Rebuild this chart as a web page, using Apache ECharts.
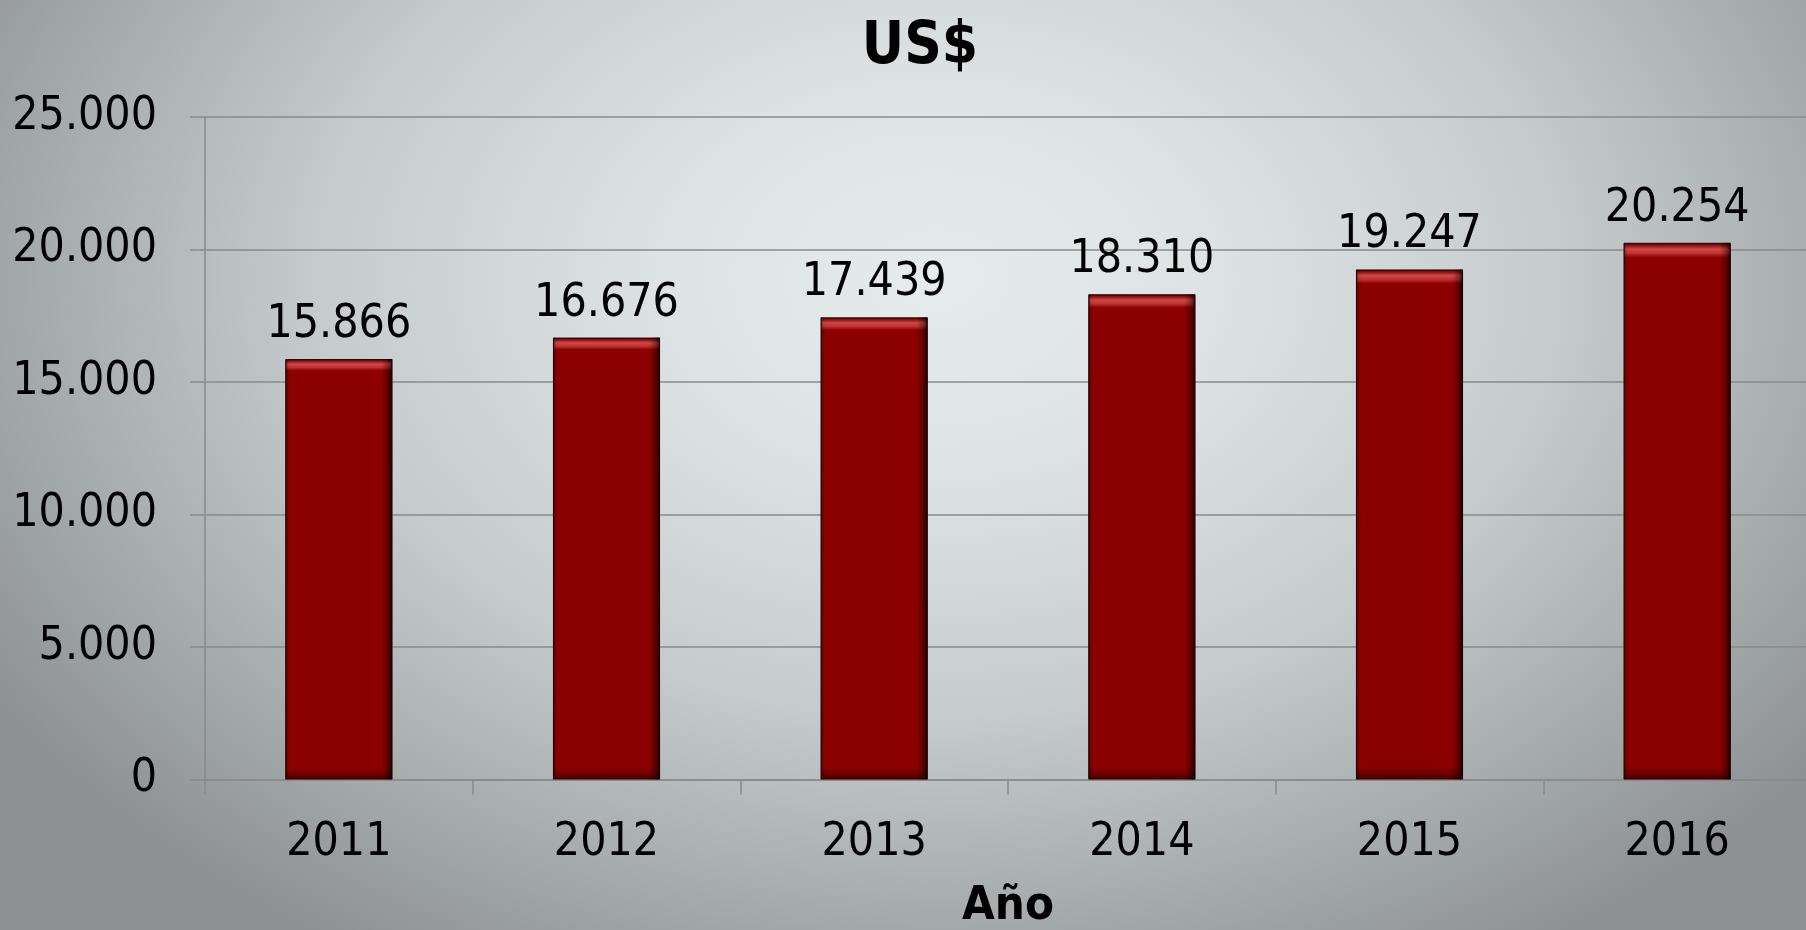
<!DOCTYPE html>
<html>
<head>
<meta charset="utf-8">
<script src="https://cdn.jsdelivr.net/npm/echarts@6/dist/echarts.min.js"></script>
<style>
html,body{margin:0;padding:0;}
#chart{width:1806px;height:930px;
background: radial-gradient(ellipse 62% 85% at 52% 30%, #e6ecec 0%, #dde3e3 25%, #c6cccd 55%, #a6abac 80%, #8d9193 100%);}
</style>
</head>
<body>
<div id="chart"></div>
<script>
const categories = ['2011', '2012', '2013', '2014', '2015', '2016'];
const values = [15866, 16676, 17439, 18310, 19247, 20254];
const yTicks = [0, 5000, 10000, 15000, 20000, 25000];
const titleText = 'US$';
const xAxisName = 'Año';

function fmt(v) {
  return String(v).replace(/\B(?=(\d{3})+(?!\d))/g, '.');
}

const FONT = 'DejaVu Sans Condensed';
const chart = echarts.init(document.getElementById('chart'), null, {renderer: 'canvas'});

const barFill = new echarts.graphic.LinearGradient(0, 0, 0, 1, [
  {offset: 0, color: '#3a0000'},
  {offset: 0.004, color: '#8a0808'},
  {offset: 0.012, color: '#d04848'},
  {offset: 0.02, color: '#bd2f2f'},
  {offset: 0.027, color: '#8e0202'},
  {offset: 0.03, color: '#8b0000'},
  {offset: 0.975, color: '#8b0000'},
  {offset: 0.99, color: '#650000'},
  {offset: 1, color: '#400000'}
]);
const sideShade = new echarts.graphic.LinearGradient(0, 0, 1, 0, [
  {offset: 0, color: 'rgba(0,0,0,0.45)'},
  {offset: 0.03, color: 'rgba(0,0,0,0.05)'},
  {offset: 0.06, color: 'rgba(0,0,0,0)'},
  {offset: 0.9, color: 'rgba(0,0,0,0)'},
  {offset: 0.96, color: 'rgba(0,0,0,0.35)'},
  {offset: 1, color: 'rgba(0,0,0,0.75)'}
]);

chart.setOption({
  backgroundColor: 'transparent',
  animation: false,
  title: {
    text: titleText,
    left: 915,
    textAlign: 'center',
    top: 14,
    textStyle: {fontFamily: FONT, fontWeight: 'bold', fontSize: 58, color: '#000'}
  },
  grid: {left: 205, right: -5, top: 117, bottom: 150.5, containLabel: false, outerBoundsMode: 'none'},
  xAxis: {
    type: 'category',
    data: categories,
    name: xAxisName,
    nameLocation: 'middle',
    nameGap: 104,
    nameTextStyle: {fontFamily: FONT, fontWeight: 'bold', fontSize: 47, color: '#000'},
    axisLine: {show: true, lineStyle: {color: '#8a8a8a', width: 1.5}},
    axisTick: {show: true, length: 15, lineStyle: {color: '#8a8a8a', width: 1.5}},
    axisLabel: {fontFamily: FONT, fontSize: 46, color: '#000', margin: 41}
  },
  yAxis: {
    type: 'value',
    min: yTicks[0],
    max: yTicks[yTicks.length - 1],
    interval: yTicks[1] - yTicks[0],
    axisLine: {show: true, lineStyle: {color: '#8a8a8a', width: 1.5}},
    axisTick: {show: true, length: 15, lineStyle: {color: '#8a8a8a', width: 1.5}},
    splitLine: {show: true, lineStyle: {color: '#8a8a8a', width: 1.5}},
    axisLabel: {fontFamily: FONT, fontSize: 46, color: '#000', margin: 48, formatter: fmt}
  },
  series: [
    {
      type: 'bar',
      data: values,
      barWidth: '40%',
      barGap: '-100%',
      itemStyle: {color: barFill, borderColor: '#2a0000', borderWidth: 1},
      label: {
        show: true, position: 'top', distance: 11,
        fontFamily: FONT, fontSize: 46, color: '#000',
        formatter: p => fmt(p.value)
      }
    },
    {
      type: 'bar',
      data: values,
      barWidth: '40%',
      barGap: '-100%',
      silent: true,
      itemStyle: {color: sideShade},
      label: {show: false}
    }
  ]
});
</script>
</body>
</html>
